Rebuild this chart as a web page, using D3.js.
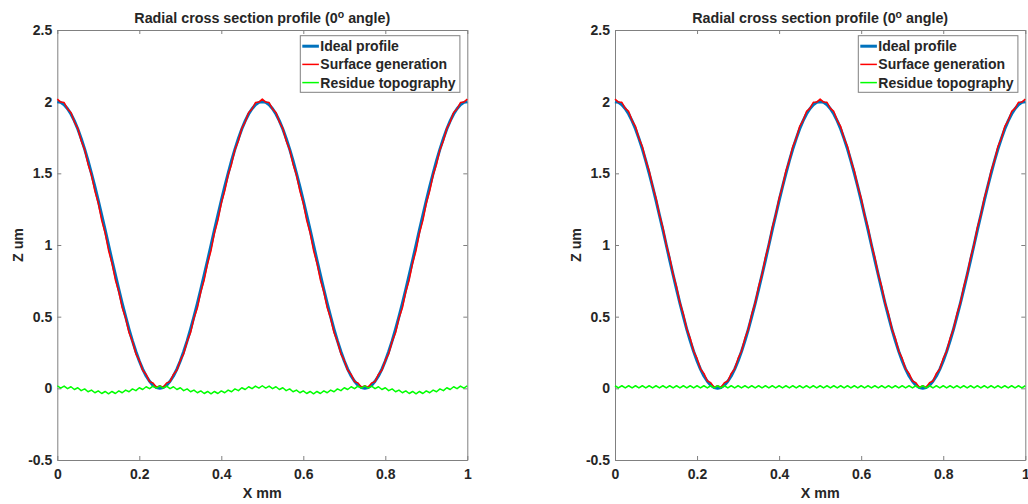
<!DOCTYPE html>
<html><head><meta charset="utf-8">
<script src="https://cdn.jsdelivr.net/npm/d3@7"></script>
<style>body{margin:0;background:#fff}svg{display:block}text{font-family:"Liberation Sans",Arial,sans-serif;font-weight:bold;fill:#262626}</style>
</head><body><svg id="c" width="1028" height="504"></svg>
<script>
const xSamples=[0,0.0083,0.0167,0.025,0.0333,0.0417,0.05,0.0583,0.0667,0.075,0.0833,0.0917,0.1,0.1083,0.1167,0.125,0.1333,0.1417,0.15,0.1583,0.1667,0.175,0.1833,0.1917,0.2,0.2083,0.2167,0.225,0.2333,0.2417,0.25,0.2583,0.2667,0.275,0.2833,0.2917,0.3,0.3083,0.3167,0.325,0.3333,0.3417,0.35,0.3583,0.3667,0.375,0.3833,0.3917,0.4,0.4083,0.4167,0.425,0.4333,0.4417,0.45,0.4583,0.4667,0.475,0.4833,0.4917,0.5,0.5083,0.5167,0.525,0.5333,0.5417,0.55,0.5583,0.5667,0.575,0.5833,0.5917,0.6,0.6083,0.6167,0.625,0.6333,0.6417,0.65,0.6583,0.6667,0.675,0.6833,0.6917,0.7,0.7083,0.7167,0.725,0.7333,0.7417,0.75,0.7583,0.7667,0.775,0.7833,0.7917,0.8,0.8083,0.8167,0.825,0.8333,0.8417,0.85,0.8583,0.8667,0.875,0.8833,0.8917,0.9,0.9083,0.9167,0.925,0.9333,0.9417,0.95,0.9583,0.9667,0.975,0.9833,0.9917,1];
const idealProfile=[2.000,1.995,1.978,1.951,1.914,1.866,1.809,1.743,1.669,1.588,1.500,1.407,1.309,1.208,1.105,1.000,0.895,0.792,0.691,0.593,0.500,0.412,0.331,0.257,0.191,0.134,0.086,0.049,0.022,0.005,0.000,
0.005,0.022,0.049,0.086,0.134,0.191,0.257,0.331,0.412,0.500,0.593,0.691,0.792,0.895,1.000,1.105,1.208,1.309,1.407,1.500,1.588,1.669,1.743,1.809,1.866,1.914,1.951,1.978,1.995,2.000,
1.995,1.978,1.951,1.914,1.866,1.809,1.743,1.669,1.588,1.500,1.407,1.309,1.208,1.105,1.000,0.895,0.792,0.691,0.593,0.500,0.412,0.331,0.257,0.191,0.134,0.086,0.049,0.022,0.005,0.000,
0.005,0.022,0.049,0.086,0.134,0.191,0.257,0.331,0.412,0.500,0.593,0.691,0.792,0.895,1.000,1.105,1.208,1.309,1.407,1.500,1.588,1.669,1.743,1.809,1.866,1.914,1.951,1.978,1.995,2.000];
const surfaceLeft=[2.018,1.997,1.994,1.949,1.925,1.858,1.813,1.727,1.665,1.564,1.488,1.376,1.291,1.172,1.083,0.962,0.873,0.756,0.673,0.562,0.488,0.388,0.327,0.241,0.195,0.126,0.097,0.047,0.038,0.007,0.018,
0.007,0.038,0.047,0.097,0.126,0.195,0.241,0.327,0.388,0.488,0.562,0.673,0.756,0.873,0.962,1.083,1.172,1.291,1.376,1.488,1.564,1.665,1.727,1.813,1.858,1.925,1.949,1.994,1.997,2.018,
1.997,1.994,1.949,1.925,1.858,1.813,1.727,1.665,1.564,1.488,1.376,1.291,1.172,1.083,0.962,0.873,0.756,0.673,0.562,0.488,0.388,0.327,0.241,0.195,0.126,0.097,0.047,0.038,0.007,0.018,
0.007,0.038,0.047,0.097,0.126,0.195,0.241,0.327,0.388,0.488,0.562,0.673,0.756,0.873,0.962,1.083,1.172,1.291,1.376,1.488,1.564,1.665,1.727,1.813,1.858,1.925,1.949,1.994,1.997,2.018];
const residueLeft=[0.018,0.002,0.016,-0.002,0.011,-0.008,0.004,-0.016,-0.004,-0.024,-0.012,-0.031,-0.018,-0.036,-0.022,-0.038,-0.022,-0.036,-0.018,-0.031,-0.012,-0.024,-0.004,-0.016,0.004,-0.008,0.011,-0.002,0.016,0.002,0.018,
0.002,0.016,-0.002,0.011,-0.008,0.004,-0.016,-0.004,-0.024,-0.012,-0.031,-0.018,-0.036,-0.022,-0.038,-0.022,-0.036,-0.018,-0.031,-0.012,-0.024,-0.004,-0.016,0.004,-0.008,0.011,-0.002,0.016,0.002,0.018,
0.002,0.016,-0.002,0.011,-0.008,0.004,-0.016,-0.004,-0.024,-0.012,-0.031,-0.018,-0.036,-0.022,-0.038,-0.022,-0.036,-0.018,-0.031,-0.012,-0.024,-0.004,-0.016,0.004,-0.008,0.011,-0.002,0.016,0.002,0.018,
0.002,0.016,-0.002,0.011,-0.008,0.004,-0.016,-0.004,-0.024,-0.012,-0.031,-0.018,-0.036,-0.022,-0.038,-0.022,-0.036,-0.018,-0.031,-0.012,-0.024,-0.004,-0.016,0.004,-0.008,0.011,-0.002,0.016,0.002,0.018];
const surfaceRight=[2.018,1.997,1.996,1.953,1.932,1.868,1.827,1.745,1.687,1.590,1.518,1.409,1.327,1.210,1.123,1.002,0.913,0.794,0.709,0.595,0.518,0.414,0.349,0.259,0.209,0.136,0.104,0.051,0.040,0.007,0.018,
0.007,0.040,0.051,0.104,0.136,0.209,0.259,0.349,0.414,0.518,0.595,0.709,0.794,0.913,1.002,1.123,1.210,1.327,1.409,1.518,1.590,1.687,1.745,1.827,1.868,1.932,1.953,1.996,1.997,2.018,
1.997,1.996,1.953,1.932,1.868,1.827,1.745,1.687,1.590,1.518,1.409,1.327,1.210,1.123,1.002,0.913,0.794,0.709,0.595,0.518,0.414,0.349,0.259,0.209,0.136,0.104,0.051,0.040,0.007,0.018,
0.007,0.040,0.051,0.104,0.136,0.209,0.259,0.349,0.414,0.518,0.595,0.709,0.794,0.913,1.002,1.123,1.210,1.327,1.409,1.518,1.590,1.687,1.745,1.827,1.868,1.932,1.953,1.996,1.997,2.018];
const residueRight=[0.018,0.003,0.018,0.003,0.018,0.003,0.018,0.003,0.018,0.003,0.018,0.003,0.018,0.003,0.018,0.003,0.018,0.003,0.018,0.003,0.018,0.003,0.018,0.003,0.018,0.003,0.018,0.003,0.018,0.003,0.018,
0.003,0.018,0.003,0.018,0.003,0.018,0.003,0.018,0.003,0.018,0.003,0.018,0.003,0.018,0.003,0.018,0.003,0.018,0.003,0.018,0.003,0.018,0.003,0.018,0.003,0.018,0.003,0.018,0.003,0.018,
0.003,0.018,0.003,0.018,0.003,0.018,0.003,0.018,0.003,0.018,0.003,0.018,0.003,0.018,0.003,0.018,0.003,0.018,0.003,0.018,0.003,0.018,0.003,0.018,0.003,0.018,0.003,0.018,0.003,0.018,
0.003,0.018,0.003,0.018,0.003,0.018,0.003,0.018,0.003,0.018,0.003,0.018,0.003,0.018,0.003,0.018,0.003,0.018,0.003,0.018,0.003,0.018,0.003,0.018,0.003,0.018,0.003,0.018,0.003,0.018];
const xTicks=[0,0.2,0.4,0.6,0.8,1];
const yTicks=[-0.5,0,0.5,1,1.5,2,2.5];
const xTickLabels=["0","0.2","0.4","0.6","0.8","1"];
const yTickLabels=["-0.5","0","0.5","1","1.5","2","2.5"];
const seriesNames=["Ideal profile","Surface generation","Residue topography"];
const seriesColors=["#0072BD","#FF0000","#00FF00"];
const seriesWidths=[3,1.5,1.5];

const svg=d3.select("#c");
function panel(left,right,surface,residue){
  const top=30,bottom=460;
  const x=d3.scaleLinear().domain([0,1]).range([left,right]);
  const y=d3.scaleLinear().domain([-0.5,2.5]).range([bottom,top]);
  const g=svg.append("g");
  const axCol="#808080";
  const fs=14;
  const ax=d3.axisBottom(x).tickValues(xTicks).tickFormat((d,i)=>xTickLabels[i]).tickSizeInner(-4).tickSizeOuter(0).tickPadding(9);
  const gx=g.append("g").attr("transform",`translate(0,${bottom})`).call(ax);
  const axT=d3.axisTop(x).tickValues(xTicks).tickFormat("").tickSizeInner(-4).tickSizeOuter(0);
  const gxt=g.append("g").attr("transform",`translate(0,${top})`).call(axT);
  const ay=d3.axisLeft(y).tickValues(yTicks).tickFormat((d,i)=>yTickLabels[i]).tickSizeInner(-4).tickSizeOuter(0).tickPadding(5);
  const gy=g.append("g").attr("transform",`translate(${left},0)`).call(ay);
  const ayR=d3.axisRight(y).tickValues(yTicks).tickFormat("").tickSizeInner(-4).tickSizeOuter(0);
  const gyr=g.append("g").attr("transform",`translate(${right},0)`).call(ayR);
  [gx,gxt,gy,gyr].forEach(a=>{a.selectAll("path").attr("stroke",axCol);a.selectAll("line").attr("stroke",axCol);
    a.selectAll("text").attr("font-size",fs).attr("font-weight","bold").attr("fill","#262626").attr("font-family","Liberation Sans, Arial, sans-serif");});
  const line=d3.line().x((d,i)=>x(xSamples[i])).y(d=>y(d));
  const data=[idealProfile,surface,residue];
  data.forEach((s,k)=>{
    g.append("path").datum(s).attr("d",line).attr("fill","none").attr("stroke",seriesColors[k]).attr("stroke-width",seriesWidths[k]).attr("stroke-linejoin","round");
  });
  const cx=(left+right)/2;
  const t=g.append("text").attr("x",cx).attr("y",23).attr("text-anchor","middle").attr("font-size",14.3);
  t.append("tspan").text("Radial cross section profile (0");
  t.append("tspan").attr("dy",-5.5).attr("font-size",10.5).text("o");
  t.append("tspan").attr("dy",5.5).text(" angle)");
  g.append("text").attr("x",cx).attr("y",498).attr("text-anchor","middle").attr("font-size",14.3).text("X mm");
  g.append("text").attr("transform",`translate(${left-34},${(top+bottom)/2}) rotate(-90)`).attr("text-anchor","middle").attr("font-size",14.3).text("Z um");
  // legend
  const lx=right-167,ly=35.7,lw=159.6,lh=56.6;
  g.append("rect").attr("x",lx).attr("y",ly).attr("width",lw).attr("height",lh).attr("fill","#fff").attr("stroke",axCol).attr("stroke-width",1);
  seriesNames.forEach((n,k)=>{
    const yy=ly+10.5+k*18.2;
    g.append("line").attr("x1",lx+2).attr("x2",lx+18.6).attr("y1",yy).attr("y2",yy).attr("stroke",seriesColors[k]).attr("stroke-width",seriesWidths[k]);
    g.append("text").attr("x",lx+20).attr("y",yy+5).attr("font-size",14).text(n);
  });
}
panel(57.3,467.3,surfaceLeft,residueLeft);
panel(615,1025.3,surfaceRight,residueRight);
</script></body></html>
